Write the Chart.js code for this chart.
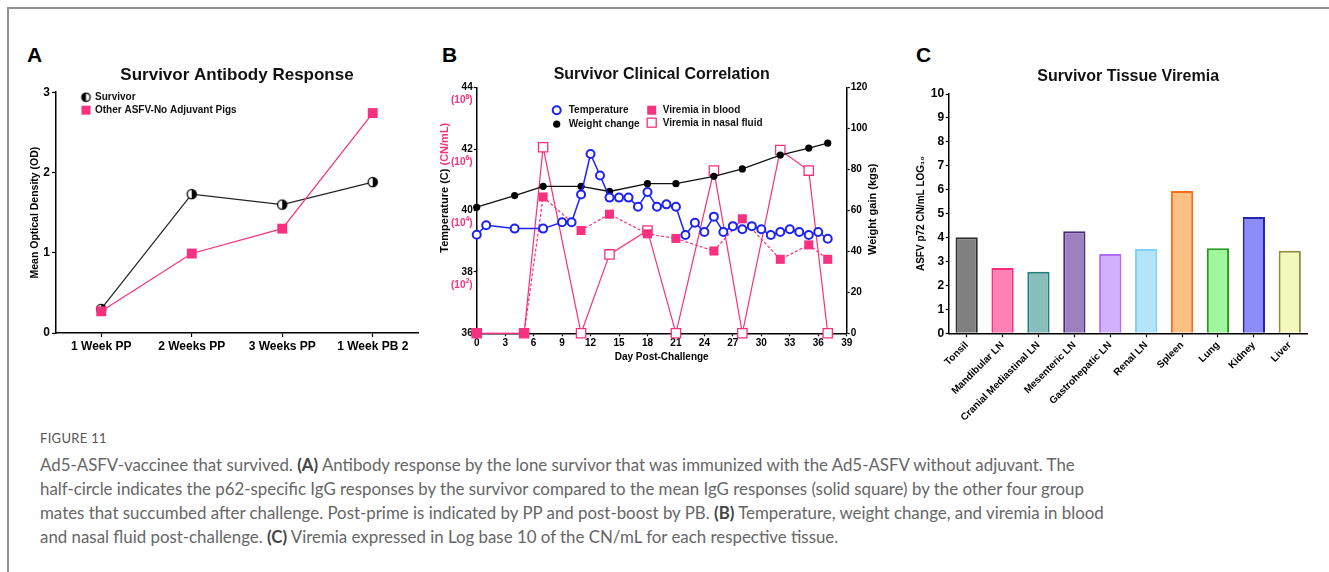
<!DOCTYPE html>
<html><head><meta charset="utf-8">
<script src="https://cdn.jsdelivr.net/npm/chart.js@4.4.1/dist/chart.umd.min.js"></script>
<style>
html,body{margin:0;padding:0;background:#fff;}
#wrap{position:relative;width:1329px;height:572px;overflow:hidden;background:#fff;font-family:Arial,"Liberation Sans",sans-serif;}
.frame{position:absolute;left:7px;top:7px;width:1340px;height:580px;border-top:2px solid #909090;border-left:2px solid #909090;}
.letter{position:absolute;font:bold 21px Arial,"Liberation Sans",sans-serif;color:#000;line-height:21px;}
canvas{position:absolute;}
.cap{position:absolute;left:40px;font-family:Lato,"Open Sans",sans-serif;color:#666;white-space:nowrap;font-weight:400;}
.cap b{color:#444;font-weight:700;}
</style></head>
<body>
<div id="wrap">
  <div class="frame"></div>
  <div class="letter" style="left:27px;top:44px;">A</div>
  <div class="letter" style="left:442px;top:44px;">B</div>
  <div class="letter" style="left:916px;top:44px;">C</div>
  <canvas id="cA" width="420" height="300" style="left:10px;top:60px;width:420px;height:300px;"></canvas>
  <canvas id="cB" width="460" height="310" style="left:430px;top:60px;width:460px;height:310px;"></canvas>
  <canvas id="cC" width="429" height="360" style="left:900px;top:60px;width:429px;height:360px;"></canvas>
  <div class="cap" style="top:430px;font-size:13px;line-height:16px;color:#555;letter-spacing:0.3px;">FIGURE 11</div>
  <div class="cap" id="capText" style="top:453px;font-size:16px;line-height:24px;">
    <div>Ad5-ASFV-vaccinee that survived. <b>(A)</b> Antibody response by the lone survivor that was immunized with the Ad5-ASFV without adjuvant. The</div>
    <div>half-circle indicates the p62-specific IgG responses by the survivor compared to the mean IgG responses (solid square) by the other four group</div>
    <div>mates that succumbed after challenge. Post-prime is indicated by PP and post-boost by PB. <b>(B)</b> Temperature, weight change, and viremia in blood</div>
    <div>and nasal fluid post-challenge. <b>(C)</b> Viremia expressed in Log base 10 of the CN/mL for each respective tissue.</div>
  </div>
</div>
<script>
// ---------- Panel A data ----------
const abCategories = ['1 Week PP', '2 Weeks PP', '3 Weeks PP', '1 Week PB 2'];
const survivorOD = [0.30, 1.73, 1.60, 1.88];
const otherPigsOD = [0.27, 0.99, 1.30, 2.74];
const odTicks = [0, 1, 2, 3];

// ---------- Panel B data ----------
const tempDays = [0, 1, 4, 7, 9, 10, 11, 12, 13, 14, 15, 16, 17, 18, 19, 20, 21, 22, 23, 24, 25, 26, 27, 28, 29, 30, 31, 32, 33, 34, 35, 36, 37];
const temperatureC = [39.21, 39.52, 39.41, 39.41, 39.62, 39.62, 40.52, 41.84, 41.14, 40.42, 40.42, 40.42, 40.12, 40.6, 40.12, 40.2, 40.12, 39.2, 39.6, 39.3, 39.8, 39.3, 39.49, 39.39, 39.49, 39.39, 39.2, 39.3, 39.39, 39.3, 39.2, 39.3, 39.08];
const weightDays = [0, 4, 7, 11, 14, 18, 21, 25, 28, 32, 35, 37];
const weightKg = [61.6, 67.3, 71.8, 71.8, 69.3, 73.1, 73.1, 76.7, 80.3, 87.1, 90.5, 92.9];
const viremiaDays = [0, 5, 7, 11, 14, 18, 21, 25, 28, 32, 35, 37];
const bloodLog10 = [0, 0, 4.44, 3.35, 3.88, 3.24, 3.09, 2.68, 3.73, 2.41, 2.88, 2.41];
const nasalLog10 = [0, 0, 6.06, 0, 2.57, 3.35, 0, 5.30, 0, 5.97, 5.30, 0];
const viremiaTickValues = [2, 4, 6, 8];
const viremiaTickExp = ['2', '4', '6', '8'];

// ---------- Panel C data ----------
const tissues = ['Tonsil', 'Mandibular LN', 'Cranial Mediastinal LN', 'Mesenteric LN', 'Gastrohepatic LN', 'Renal LN', 'Spleen', 'Lung', 'Kidney', 'Liver'];
const tissueLog10 = [4.01, 2.73, 2.57, 4.26, 3.31, 3.52, 5.95, 3.55, 4.86, 3.45];
const tissueFill = ['#808080', '#ff80b3', '#88bfbd', '#9c80bf', '#d3b0fb', '#b4e4fa', '#ffc084', '#a1f79c', '#8c8cfb', '#f3f8bb'];
const tissueBorder = ['#2e2e2e', '#ff2a78', '#1e7f7d', '#4a2a7e', '#b56cf7', '#7fd2f3', '#ff6b1e', '#1f9a1f', '#2525a8', '#8f8f3c'];

// ---------- styles ----------
const PINK = '#f7317f';
const BLUE = '#1c22f5';
const FONT = 'Arial, "Liberation Sans", sans-serif';
Chart.defaults.font.family = FONT;
Chart.defaults.color = '#000';

function halfCircle(r, blackSide) {
  const s = Math.ceil(2 * r + 4);
  const c = document.createElement('canvas');
  c.width = s; c.height = s;
  const g = c.getContext('2d');
  const cx = s / 2;
  g.beginPath(); g.arc(cx, cx, r, 0, Math.PI * 2); g.fillStyle = '#fff'; g.fill();
  g.beginPath();
  if (blackSide === 'right') g.arc(cx, cx, r, -Math.PI / 2, Math.PI / 2);
  else g.arc(cx, cx, r, Math.PI / 2, Math.PI * 1.5);
  g.closePath(); g.fillStyle = '#000'; g.fill();
  g.beginPath(); g.arc(cx, cx, r, 0, Math.PI * 2); g.lineWidth = 1.3; g.strokeStyle = '#000'; g.stroke();
  return c;
}
const halfPoint = halfCircle(4.6, 'right');
const halfLegend = halfCircle(4.2, 'left');

function drawMarker(ctx, type, x, y) {
  ctx.save();
  switch (type) {
    case 'half': ctx.drawImage(halfLegend, x - halfLegend.width / 2, y - halfLegend.height / 2); break;
    case 'openCircle':
      ctx.beginPath(); ctx.arc(x, y, 4, 0, Math.PI * 2); ctx.fillStyle = '#fff'; ctx.fill();
      ctx.lineWidth = 2; ctx.strokeStyle = BLUE; ctx.stroke(); break;
    case 'dot':
      ctx.beginPath(); ctx.arc(x, y, 3.6, 0, Math.PI * 2); ctx.fillStyle = '#000'; ctx.fill(); break;
    case 'square':
      ctx.fillStyle = PINK; ctx.fillRect(x - 4.5, y - 4.5, 9, 9); break;
    case 'openSquare':
      ctx.fillStyle = '#fff'; ctx.fillRect(x - 4.5, y - 4.5, 9, 9);
      ctx.strokeStyle = PINK; ctx.lineWidth = 1.3; ctx.strokeRect(x - 4.5, y - 4.5, 9, 9); break;
  }
  ctx.restore();
}

const customLegend = {
  id: 'customLegend',
  afterDraw(chart, args, opts) {
    if (!opts.items) return;
    const ctx = chart.ctx, a = chart.chartArea;
    ctx.save();
    ctx.font = opts.font; ctx.textBaseline = 'middle'; ctx.textAlign = 'left';
    opts.items.forEach(it => {
      const x = a.left + it.dx, y = a.top + it.dy;
      drawMarker(ctx, it.marker, x, y);
      ctx.fillStyle = '#111';
      ctx.fillText(it.text, x + it.gap, y + 0.5);
    });
    ctx.restore();
  }
};

function axisBase(tickLen, tickFont, pad) {
  return {
    border: { display: true, color: '#000', width: 1.5 },
    grid: { display: true, drawOnChartArea: false, drawTicks: true, tickLength: tickLen, tickColor: '#000', tickWidth: 1.2 },
    ticks: { color: '#000', font: { weight: 'bold', size: tickFont }, padding: pad }
  };
}

// ---------- Panel A ----------
(function () {
  const x = axisBase(4, 12, 2);
  x.offset = true; x.grid.offset = false;
  x.afterFit = s => { s.height = 27; };
  const y = axisBase(4, 12, 2);
  y.min = 0; y.max = 3;
  y.afterBuildTicks = s => { s.ticks = odTicks.map(v => ({ value: v })); };
  y.title = { display: true, text: 'Mean Optical Density (OD)', font: { weight: 'bold', size: 10.5 }, color: '#000', padding: { top: 19, bottom: 0 } };
  y.afterFit = s => { s.width = 46; };
  new Chart(document.getElementById('cA'), {
    type: 'line',
    data: {
      labels: abCategories,
      datasets: [
        { label: 'Other ASFV-No Adjuvant Pigs', data: otherPigsOD, borderColor: PINK, backgroundColor: PINK, borderWidth: 1.2,
          pointStyle: 'rect', pointRadius: 7, pointBorderWidth: 0, order: 0, clip: false },
        { label: 'Survivor', data: survivorOD, borderColor: '#222', backgroundColor: '#000', borderWidth: 1.2,
          pointStyle: halfPoint, pointRadius: 5, order: 1, clip: false }
      ]
    },
    options: {
      responsive: false, animation: false,
      layout: { padding: { left: 0, right: 12, top: 0, bottom: 0 } },
      scales: { x: x, y: y },
      plugins: {
        legend: { display: false }, tooltip: { enabled: false },
        title: { display: true, text: 'Survivor Antibody Response', font: { weight: 'bold', size: 17 }, color: '#111', padding: { top: 5, bottom: 6.8 }, fullSize: false },
        customLegend: { font: 'bold 10px ' + FONT, items: [
          { marker: 'half', text: 'Survivor', dx: 30, dy: 5, gap: 9 },
          { marker: 'square', text: 'Other ASFV-No Adjuvant Pigs', dx: 30, dy: 18, gap: 9 }
        ] }
      }
    },
    plugins: [customLegend]
  });
})();

// ---------- Panel B ----------
const panelBExtras = {
  id: 'panelBExtras',
  afterDraw(chart) {
    const ctx = chart.ctx, a = chart.chartArea, y = chart.scales.y, yv = chart.scales.yv;
    ctx.save();
    ctx.fillStyle = PINK; ctx.textBaseline = 'middle'; ctx.textAlign = 'left';
    viremiaTickValues.forEach((v, i) => {
      const py = yv.getPixelForValue(v) + 13;
      const right = y.right - 4;
      ctx.font = 'bold 10px ' + FONT; const wClose = ctx.measureText(')').width; const wBase = ctx.measureText('(10').width;
      ctx.font = 'bold 7px ' + FONT; const wExp = ctx.measureText(viremiaTickExp[i]).width;
      let xx = right - wClose - wExp - wBase;
      ctx.font = 'bold 10px ' + FONT; ctx.fillText('(10', xx, py); xx += wBase;
      ctx.font = 'bold 7px ' + FONT; ctx.fillText(viremiaTickExp[i], xx, py - 4); xx += wExp;
      ctx.font = 'bold 10px ' + FONT; ctx.fillText(')', xx, py);
    });
    // left axis title (two colours)
    ctx.save();
    ctx.font = 'bold 11px ' + FONT;
    const t1 = 'Temperature (C) ', t2 = '(CN/mL)';
    const w1 = ctx.measureText(t1).width, w2 = ctx.measureText(t2).width;
    ctx.translate(a.left - 31.5, a.top + 100);
    ctx.rotate(-Math.PI / 2);
    ctx.fillStyle = '#000'; ctx.fillText(t1, -(w1 + w2) / 2, 0);
    ctx.fillStyle = PINK; ctx.fillText(t2, -(w1 + w2) / 2 + w1, 0);
    ctx.restore();
    // right axis title (reads bottom to top)
    ctx.save();
    ctx.font = 'bold 11px ' + FONT; ctx.fillStyle = '#000'; ctx.textAlign = 'center';
    ctx.translate(a.right + 26.5, a.top + 121.5);
    ctx.rotate(-Math.PI / 2);
    ctx.fillText('Weight gain (kgs)', 0, 0);
    ctx.restore();
    ctx.restore();
  }
};

(function () {
  const x = axisBase(3, 10, 1);
  x.type = 'linear'; x.min = 0; x.max = 39;
  x.ticks.stepSize = 3;
  x.title = { display: true, text: 'Day Post-Challenge', font: { weight: 'bold', size: 10 }, color: '#000', padding: { top: 0, bottom: 7 } };
  x.afterFit = s => { s.height = 36.7; };
  const y = axisBase(3, 10, 1);
  y.position = 'left'; y.min = 36; y.max = 44; y.ticks.stepSize = 2;
  y.afterFit = s => { s.width = 46.7; };
  const y1 = axisBase(3, 10, 1);
  y1.position = 'right'; y1.min = 0; y1.max = 120; y1.ticks.stepSize = 20;
  y1.afterFit = s => { s.width = 43.3; };
  const yv = { type: 'linear', display: false, min: 0, max: 8 };

  const xy = (xs, ys) => xs.map((d, i) => ({ x: d, y: ys[i] }));
  new Chart(document.getElementById('cB'), {
    type: 'line',
    data: {
      datasets: [
        { label: 'Temperature', data: xy(tempDays, temperatureC), yAxisID: 'y', borderColor: BLUE, backgroundColor: '#fff',
          borderWidth: 1.5, pointStyle: 'circle', pointRadius: 4, pointBorderWidth: 2, order: 0, clip: false },
        { label: 'Weight change', data: xy(weightDays, weightKg), yAxisID: 'y1', borderColor: '#111', backgroundColor: '#000',
          borderWidth: 1.3, pointStyle: 'circle', pointRadius: 3.6, pointBorderWidth: 0, order: 1, clip: false },
        { label: 'Viremia in blood', data: xy(viremiaDays, bloodLog10), yAxisID: 'yv', borderColor: PINK, backgroundColor: PINK,
          borderWidth: 1.2, borderDash: [3, 2], pointStyle: 'rect', pointRadius: 6.4, pointBorderWidth: 0, order: 2, clip: false },
        { label: 'Viremia in nasal fluid', data: xy(viremiaDays, nasalLog10), yAxisID: 'yv', borderColor: PINK, backgroundColor: '#fff',
          borderWidth: 1.2, pointStyle: 'rect', pointRadius: 6.6, pointBorderWidth: 1.3, order: 3, clip: false }
      ]
    },
    options: {
      responsive: false, animation: false,
      layout: { padding: 0 },
      scales: { x: x, y: y, y1: y1, yv: yv },
      plugins: {
        legend: { display: false }, tooltip: { enabled: false },
        title: { display: true, text: 'Survivor Clinical Correlation', font: { weight: 'bold', size: 16 }, color: '#111', padding: { top: 5, bottom: 3.5 }, fullSize: false },
        customLegend: { font: 'bold 10px ' + FONT, items: [
          { marker: 'openCircle', text: 'Temperature', dx: 80, dy: 22.5, gap: 12 },
          { marker: 'dot', text: 'Weight change', dx: 80, dy: 36.5, gap: 12 },
          { marker: 'square', text: 'Viremia in blood', dx: 175, dy: 22.5, gap: 11 },
          { marker: 'openSquare', text: 'Viremia in nasal fluid', dx: 175, dy: 35, gap: 11 }
        ] }
      }
    },
    plugins: [customLegend, panelBExtras]
  });
})();

// ---------- Panel C ----------
(function () {
  const x = axisBase(4, 10, 2);
  x.offset = true; x.grid.offset = false;
  x.ticks.autoSkip = false; x.ticks.maxRotation = 45; x.ticks.minRotation = 45;
  x.afterFit = s => { s.height = 86.7; };
  const y = axisBase(3, 12, 1.5);
  y.min = 0; y.max = 10; y.ticks.stepSize = 1;
  y.title = { display: true, text: 'ASFV p72 CN/mL LOG\u2081\u2080', font: { weight: 'bold', size: 10 }, color: '#000', padding: { top: 15.7, bottom: 0 } };
  y.afterFit = s => { s.width = 48.7; };
  new Chart(document.getElementById('cC'), {
    type: 'bar',
    data: {
      labels: tissues,
      datasets: [{ label: 'Tissue viremia', data: tissueLog10, backgroundColor: tissueFill, borderColor: tissueBorder,
        borderWidth: 2, barPercentage: 0.62, categoryPercentage: 1.0 }]
    },
    options: {
      responsive: false, animation: false,
      layout: { padding: { left: 0, right: 21.3, top: 0, bottom: 0 } },
      scales: { x: x, y: y },
      plugins: {
        legend: { display: false }, tooltip: { enabled: false },
        title: { display: true, text: 'Survivor Tissue Viremia', font: { weight: 'bold', size: 16 }, color: '#111', padding: { top: 7, bottom: 7.8 }, fullSize: false }
      }
    }
  });
})();

// fit caption width to the reference line length
(function () {
  const cap = document.getElementById('capText');
  const first = cap.firstElementChild;
  first.style.display = 'inline-block';
  const w = first.getBoundingClientRect().width;
  first.style.display = '';
  if (w > 0) cap.style.fontSize = (16 * 1035 / w).toFixed(2) + 'px';
})();
</script>
</body></html>
